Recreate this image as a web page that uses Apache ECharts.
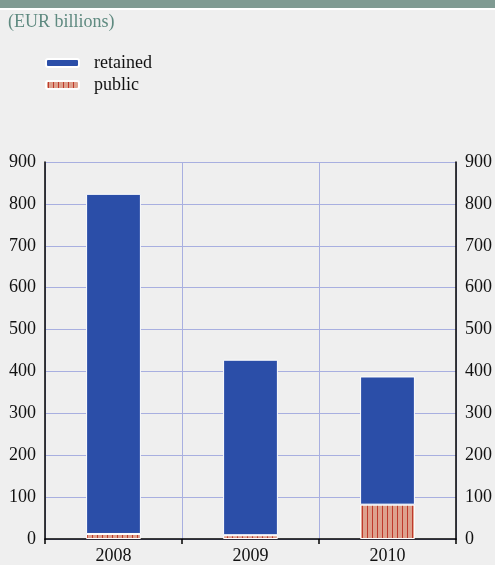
<!DOCTYPE html>
<html><head><meta charset="utf-8">
<script src="https://cdn.jsdelivr.net/npm/echarts@6/dist/echarts.min.js"></script>
<style>html,body{margin:0;padding:0;background:#efefef}#c{width:495px;height:565px}</style>
</head><body><div id="c"></div>
<script>
const categories = ['2008', '2009', '2010'];
const retained = [812, 419, 306];
const publicVals = [12, 9, 82];
const yTicks = [0, 100, 200, 300, 400, 500, 600, 700, 800, 900];

const pc = document.createElement('canvas');
pc.width = 5; pc.height = 10;
const ctx = pc.getContext('2d');
ctx.fillStyle = '#dda18d'; ctx.fillRect(0, 0, 5, 10);
ctx.fillStyle = '#c0392b'; ctx.fillRect(2, 0, 1, 10);
const pattern = { image: pc, repeat: 'repeat' };

const font = 'Liberation Serif';
const chart = echarts.init(document.getElementById('c'));
const yAxisCommon = {
  type: 'value', min: 0, max: 900, interval: 100,
  axisLine: { show: true, lineStyle: { color: '#000', width: 1.5 } },
  axisTick: { show: false },
  axisLabel: { color: '#111', fontFamily: font, fontSize: 18, margin: 9,
    formatter: v => yTicks.includes(v) ? String(v) : '' }
};
chart.setOption({
  backgroundColor: '#efefef',
  animation: false,
  graphic: [
    { type: 'rect', shape: { x: 0, y: 0, width: 495, height: 8 }, style: { fill: '#7f9a92' } },
    { type: 'rect', shape: { x: 0, y: 8, width: 495, height: 2 }, style: { fill: '#ffffff' } }
  ],
  title: { text: '(EUR billions)', left: 3, top: 8,
    textStyle: { color: '#5f8a80', fontFamily: font, fontSize: 18, fontWeight: 'normal' } },
  legend: {
    orient: 'vertical', left: 40, top: 49, itemWidth: 33, itemHeight: 8, itemGap: 4,
    textStyle: { color: '#111', fontFamily: font, fontSize: 18, lineHeight: 18, padding: [0, 0, 0, 10] },
    data: ['retained', 'public']
  },
  grid: { left: 45, right: 39, top: 162, bottom: 25 },
  xAxis: {
    type: 'category', data: categories,
    axisLine: { lineStyle: { color: '#000', width: 1.5 } },
    axisTick: { show: true, length: 5, lineStyle: { color: '#000', width: 1.5 } },
    axisLabel: { color: '#111', fontFamily: font, fontSize: 18, margin: 8 },
    splitLine: { show: true, lineStyle: { color: '#a8afe0', width: 1 } }
  },
  yAxis: [
    Object.assign({}, yAxisCommon, { position: 'left',
      splitLine: { show: true, lineStyle: { color: '#a8afe0', width: 1 } } }),
    Object.assign({}, yAxisCommon, { position: 'right', splitLine: { show: false } })
  ],
  series: [
    { name: 'public', type: 'bar', stack: 's', data: publicVals, barWidth: '40%',
      itemStyle: { color: pattern, borderColor: '#ffffff', borderWidth: 1 } },
    { name: 'retained', type: 'bar', stack: 's', data: retained, barWidth: '40%',
      itemStyle: { color: '#2b4ea8', borderColor: '#ffffff', borderWidth: 1 } }
  ]
});
</script></body></html>
